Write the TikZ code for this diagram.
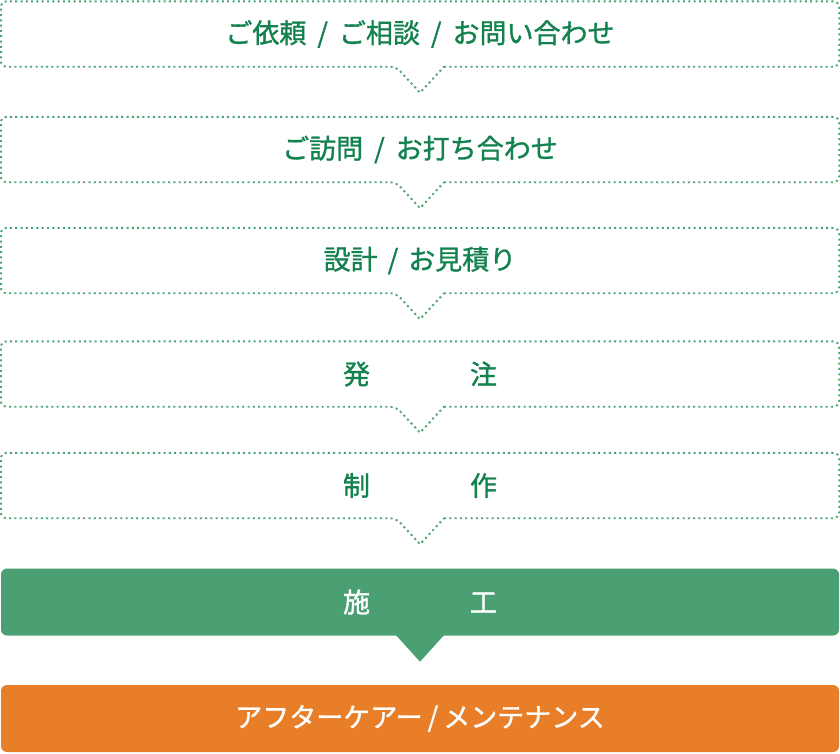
\documentclass[tikz,border=0pt]{standalone}
\usepackage{fontspec}
\newfontfamily\jp[AutoFakeBold=1.2]{Noto Sans CJK JP}
\usetikzlibrary{calc}
\definecolor{dotgreen}{RGB}{76,162,112}
\definecolor{textgreen}{RGB}{20,130,78}
\definecolor{fillgreen}{RGB}{74,159,115}
\definecolor{fillorange}{RGB}{232,126,40}
\newcommand{\sls}[1]{\hspace{#1}/\hspace{#1}}
\tikzset{%
	stepbox/.style = {name = #1, minimum width = 838pt, minimum height = 65pt, inner sep = 0pt, text = textgreen, font = \jp\bfseries\fontsize{27pt}{30pt}\selectfont},
	fillbox/.style = {name = #1, minimum width = 838pt, minimum height = 67pt, inner sep = 0pt, rounded corners = 6pt, text = white, font = \jp\bfseries\fontsize{27pt}{30pt}\selectfont},
	dotline/.style = {draw = dotgreen, line width = 1.9pt, dash pattern = on 2pt off 3.3pt}
}
\begin{document}
\begin{tikzpicture}
	\useasboundingbox (0,0) rectangle (840pt,-753pt);
	\node [stepbox = {s1}] at (420pt,-34pt) {ご依頼\sls{11pt}ご相談\sls{11pt}お問い合わせ};
	\node [stepbox = {s2}] at (420pt,-149.5pt) {ご訪問\sls{11pt}お打ち合わせ};
	\node [stepbox = {s3}] at (420pt,-260.5pt) {設計\sls{10pt}お見積り};
	\node [stepbox = {s4}] at (420pt,-374pt) {発\hspace{100pt}注};
	\node [stepbox = {s5}] at (420pt,-485.5pt) {制\hspace{100pt}作};
	\node [fillbox = {s6}, fill = fillgreen] at (420pt,-602pt) {施\hspace{100pt}工};
	\node [fillbox = {s7}, fill = fillorange] at (420pt,-718.5pt) {アフターケアー\sls{5pt}メンテナンス};
	\foreach \n in {s1,s2,s3,s4,s5}
		\draw [dotline, rounded corners = 6pt] ($(\n.south)+(24pt,0)$) -- (\n.south east) -- (\n.north east) -- (\n.north west) -- (\n.south west) -- ($(\n.south)-(24pt,0)$) [sharp corners] -- ($(\n.south)+(0,-26pt)$) -- cycle;
	\fill [fillgreen] ($(s6.south)+(-24pt,0.5pt)$) -- ($(s6.south)+(24pt,0.5pt)$) -- ($(s6.south)+(0,-26pt)$) -- cycle;
\end{tikzpicture}
\end{document}
